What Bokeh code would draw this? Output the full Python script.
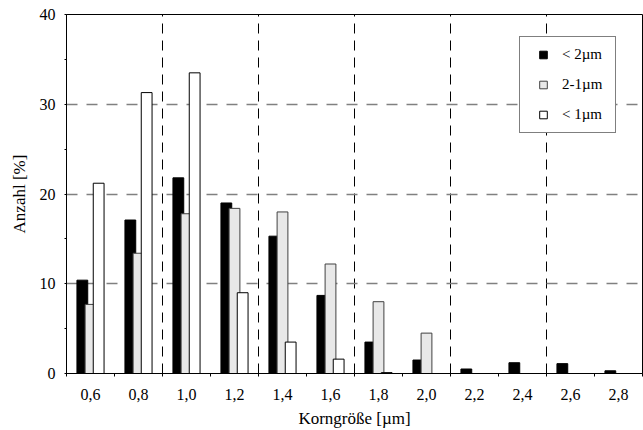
import numpy as np
from bokeh.plotting import figure
from bokeh.models import (ColumnDataSource, Range1d, FixedTicker, Legend, LegendItem)
from bokeh.embed import file_html
from bokeh.resources import INLINE

# ---- data ----
categories = ["0,6", "0,8", "1,0", "1,2", "1,4", "1,6", "1,8", "2,0", "2,2", "2,4", "2,6", "2,8"]
series_names = ["< 2\u00b5m", "2-1\u00b5m", "< 1\u00b5m"]
lt2 = [10.4, 17.1, 21.8, 19.0, 15.3, 8.7, 3.5, 1.5, 0.5, 1.2, 1.1, 0.3]
mid = [7.7, 13.4, 17.8, 18.4, 18.0, 12.2, 8.0, 4.5, 0.0, 0.0, 0.0, 0.0]
lt1 = [21.2, 31.3, 33.5, 9.0, 3.5, 1.6, 0.1, 0.0, 0.0, 0.0, 0.0, 0.0]
y_ticks = [0, 10, 20, 30, 40]

FONT = "Liberation Serif"
n = len(categories)
centers = np.arange(n) + 0.5

p = figure(width=643, height=430, output_backend="svg", toolbar_location=None,
           x_range=Range1d(0, n), y_range=Range1d(0, 40),
           min_border_left=66, min_border_right=1, min_border_top=14, min_border_bottom=56)
p.background_fill_color = "white"
p.border_fill_color = "white"
p.outline_line_color = "black"
p.outline_line_width = 1

# grids
p.xgrid.ticker = FixedTicker(ticks=list(range(2, n, 2)))
p.xgrid.grid_line_color = "black"
p.xgrid.grid_line_dash = "10 7"
p.xgrid.grid_line_width = 1
p.ygrid.ticker = FixedTicker(ticks=y_ticks[1:])
p.ygrid.grid_line_color = "#808080"
p.ygrid.grid_line_dash = "11 9"
p.ygrid.grid_line_width = 1.3

# bars
w = 0.225
offs = [-0.17, 0.0, 0.17]
fills = ["black", "#e8e8e8", "white"]
lines = ["black", "#404040", "black"]
items = []
for vals, off, fc, lc, name in zip([lt2, mid, lt1], offs, fills, lines, series_names):
    src = ColumnDataSource(dict(x=centers + off, top=vals))
    p.vbar(x="x", top="top", width=w, bottom=0, source=src,
           fill_color=fc, line_color=lc, line_width=1)
    # hidden marker renderer used only for the legend swatch
    r = p.scatter(x="x", y="top", source=src, marker="square", size=8,
                  fill_color=fc, line_color=lc, visible=False)
    items.append(LegendItem(label=name, renderers=[r]))

leg = Legend(items=items, location=(453, 240), orientation="vertical",
             padding=8, spacing=11, glyph_width=30, glyph_height=19,
             label_height=19, label_width=45, label_standoff=4,
             label_text_font=FONT, label_text_font_size="15px", label_text_color="black",
             border_line_color="black", border_line_width=1,
             background_fill_color="white", background_fill_alpha=1.0,
             click_policy="none")
p.add_layout(leg, "center")

# x axis
xa = p.xaxis[0]
xa.ticker = FixedTicker(ticks=list(centers), minor_ticks=list(range(0, n + 1)))
xa.major_label_overrides = {float(c): lab for c, lab in zip(centers, categories)}
xa.major_tick_out = 0
xa.major_tick_in = 0
xa.minor_tick_out = 3
xa.minor_tick_in = 0
xa.major_label_standoff = 12
xa.axis_line_color = "black"
xa.minor_tick_line_color = "black"
xa.major_label_text_font = FONT
xa.major_label_text_font_size = "16px"
xa.major_label_text_color = "black"
xa.axis_label = "Korngr\u00f6\u00dfe [\u00b5m]"
xa.axis_label_text_font = FONT
xa.axis_label_text_font_size = "17px"
xa.axis_label_text_font_style = "normal"
xa.axis_label_standoff = 6
xa.axis_label_text_color = "black"

# y axis
ya = p.yaxis[0]
ya.ticker = FixedTicker(ticks=y_ticks, minor_ticks=[5, 15, 25, 35])
ya.major_tick_out = 2
ya.major_tick_in = 0
ya.minor_tick_out = 2
ya.minor_tick_in = 0
ya.major_tick_line_color = "black"
ya.minor_tick_line_color = "black"
ya.major_label_standoff = 9
ya.axis_line_color = "black"
ya.major_label_text_font = FONT
ya.major_label_text_font_size = "16px"
ya.major_label_text_color = "black"
ya.axis_label = "Anzahl [%]"
ya.axis_label_text_font = FONT
ya.axis_label_text_font_size = "17px"
ya.axis_label_text_font_style = "normal"
ya.axis_label_standoff = 8
ya.axis_label_text_color = "black"

open("out.html", "w").write(file_html(p, INLINE))
